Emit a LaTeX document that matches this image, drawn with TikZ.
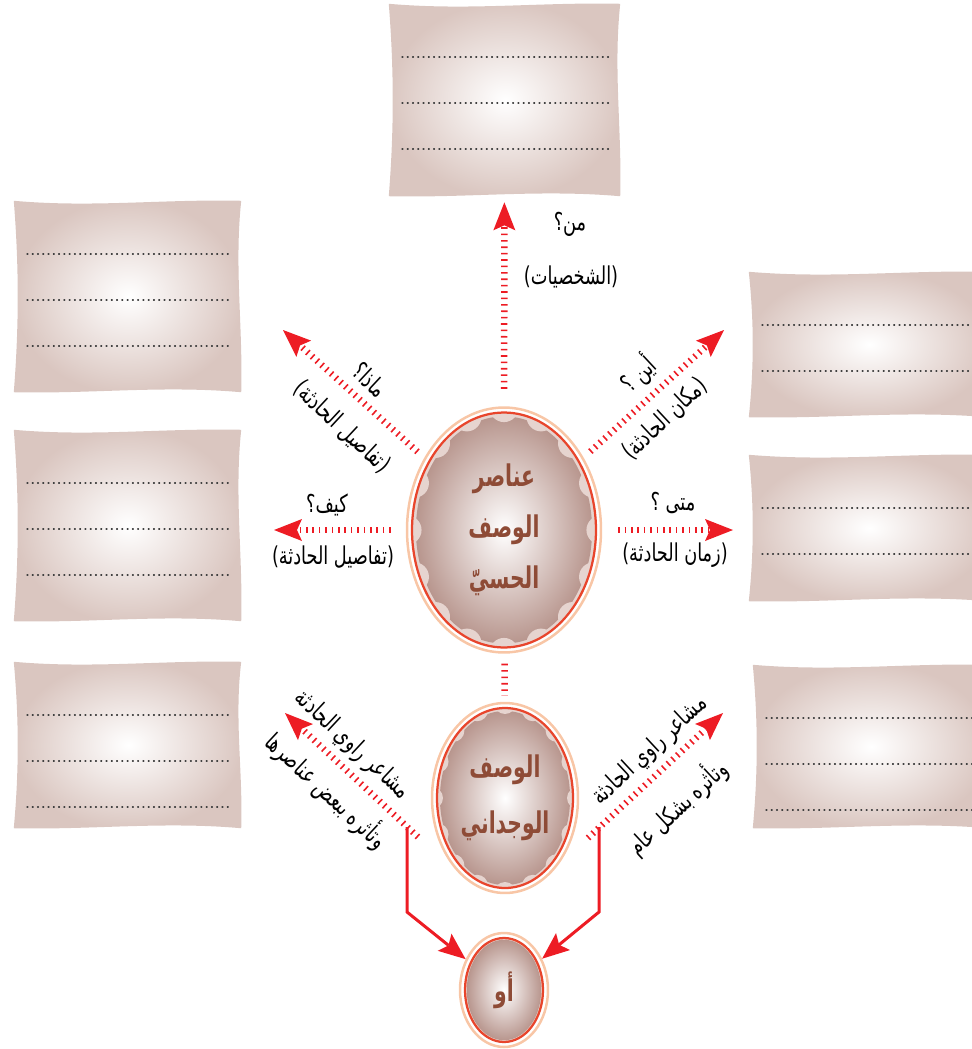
\documentclass[tikz,border=0pt]{standalone}
\usepackage{fontspec}
\usepackage{tikz}
\usetikzlibrary{positioning,calc,shapes.geometric,arrows.meta}
\newfontfamily\arabicfont[Script=Arabic,FakeStretch=0.72]{DejaVu Sans}
\newfontfamily\eggfont[Script=Arabic,FakeStretch=0.68]{DejaVu Sans}
\TeXXeTstate=1
\newcommand{\artext}[1]{\beginR #1\endR}
\definecolor{askred}{HTML}{ED1C24}
\definecolor{boxtan}{HTML}{DAC6C0}
\definecolor{eggpeach}{HTML}{F8C6A6}
\definecolor{eggred}{HTML}{E8452C}
\definecolor{eggband}{HTML}{E6D4CF}
\definecolor{eggbrown}{HTML}{B8968E}
\definecolor{eggtext}{HTML}{8E4B36}

\begin{document}
\begin{tikzpicture}[x=0.02cm, y=-0.02cm,
  lbl/.style={font=\arabicfont\fontsize{14}{16}\selectfont, inner sep=1pt},
  ask/.style={draw=askred, line width=1.3mm, dash pattern=on 0.32mm off 0.96mm,
    -{Stealth[length=5.6mm,width=4.4mm,inset=1mm,line width=0pt]}},
  link/.style={draw=askred, line width=1.3mm, dash pattern=on 0.32mm off 0.96mm},
  orarrow/.style={draw=askred, line width=0.6mm,
    -{Stealth[length=5.4mm,width=4.4mm,inset=1mm,line width=0pt]}},
  answerdots/.style={draw=black!75, line width=0.7pt, dash pattern=on 0.5pt off 2.5pt, line cap=round},
  answer/.style n args={3}{rectangle, minimum width=#1, minimum height=#2, inner sep=0pt,
    path picture={
      \path (path picture bounding box.north west) coordinate (pnw)
            (path picture bounding box.south east) coordinate (pse);
      \shade[inner color=white, outer color=boxtan]
        let \p1=(pnw), \p2=(pse), \n1={\x2-\x1}, \n2={\y1-\y2} in
        (\x1+1pt,\y1-1pt) .. controls (\x1+0.35*\n1,\y1-5pt) and (\x1+0.65*\n1,\y1) .. (\x2-1pt,\y1-1pt)
        .. controls (\x2-5pt,\y1-0.35*\n2) and (\x2,\y1-0.65*\n2) .. (\x2-1pt,\y2+1pt)
        .. controls (\x1+0.65*\n1,\y2+5pt) and (\x1+0.35*\n1,\y2) .. (\x1+1pt,\y2+1pt)
        .. controls (\x1+4pt,\y1-0.65*\n2) and (\x1+4pt,\y1-0.35*\n2) .. cycle;
      \foreach \k in {1,...,#3}
        \draw[answerdots] ($(pnw)+(3mm,{-11mm-(\k-1)*9.2mm})$) -- ($(pnw -| pse)+(-2.5mm,{-11mm-(\k-1)*9.2mm})$);
    }},
  egg/.style 2 args={ellipse, draw=eggpeach, line width=0.5mm, minimum width=#1, minimum height=#2,
    inner sep=0pt, align=center, text=eggtext, font=\eggfont\bfseries\fontsize{17}{29}\selectfont,
    path picture={
      \path (path picture bounding box.center) coordinate (pc);
      \begin{scope}
        \clip (pc) ellipse [x radius=0.5*#1-1mm, y radius=0.5*#2-1mm];
        \fill[eggband] (pc) ellipse [x radius=0.5*#1-1mm, y radius=0.5*#2-1mm];
        \shade[inner color=white, outer color=eggbrown] (pc)
          ellipse [x radius=0.48*#1-1mm, y radius=0.5*#2-1mm-0.02*#1];
        \foreach \a in {0,22.5,...,337.5}
          \fill[eggband] ($(pc)+({0.5*#1*cos(\a)},{0.5*#2*sin(\a)})$) circle [radius=0.075*#1];
      \end{scope}
      \draw[eggred, line width=0.45mm] (pc) ellipse [x radius=0.5*#1-1mm, y radius=0.5*#2-1mm];
    }}
]
  \useasboundingbox (0,0) rectangle (972,1049);

  % answer boxes
  \node[answer={47mm}{39.2mm}{3}] (who) at (504.5,100) {};
  \node[answer={46.2mm}{39mm}{3}] (what) at (127.5,296.5) {};
  \node[answer={46.2mm}{39mm}{3}] (how) at (127.5,525.5) {};
  \node[answer={46.2mm}{34mm}{3}] (feelA) at (127.5,745) {};
  \node[answer={48.6mm}{29.8mm}{2}] (where) at (868.5,344.5) {};
  \node[answer={48.6mm}{30mm}{2}] (when) at (868.5,528) {};
  \node[answer={47.8mm}{33.4mm}{3}] (feelB) at (870.5,746.5) {};

  % eggs
  \node[egg={38.8mm}{49mm}] (sense) at (504,530) {\artext{عناصر}\\\artext{الوصف}\\\artext{الحسيّ}};
  \node[egg={29.2mm}{38mm}, font=\eggfont\bfseries\fontsize{17}{32}\selectfont] (emo) at (505,798)
    {\artext{الوصف}\\\artext{الوجداني}};
  \node[egg={17.6mm}{22.8mm}] (orEgg) at (504,990) {\artext{أو}};

  \coordinate (whatTip) at (283,330);
  \coordinate (howTip) at (274,530);
  \coordinate (whereTip) at (724,330);
  \coordinate (whenTip) at (733,530);
  \coordinate (feelAFoot) at (418,837);
  \coordinate (feelATip) at (285,713);
  \coordinate (feelBFoot) at (588,838);
  \coordinate (feelBTip) at (723,713);
  \coordinate (feelASplit) at (407,827);
  \coordinate (feelAKnee) at (407,912);
  \coordinate (feelBSplit) at (599,827);
  \coordinate (feelBKnee) at (599,912);

  \draw[ask, shorten <=3.5mm, shorten >=0.8mm] (sense) -- (who);
  \draw[ask, shorten <=1.8mm] (sense) -- (whatTip);
  \draw[ask, shorten <=3mm] (sense) -- (howTip);
  \draw[ask, shorten <=1.8mm] (sense) -- (whereTip);
  \draw[ask, shorten <=3.2mm] (sense) -- (whenTip);
  \draw[link, shorten <=2mm, shorten >=1.2mm] (sense) -- (emo);
  \draw[ask] (feelAFoot) -- (feelATip);
  \draw[ask] (feelBFoot) -- (feelBTip);
  \draw[orarrow] (feelASplit) -- (feelAKnee) -- (orEgg);
  \draw[orarrow] (feelBSplit) -- (feelBKnee) -- (orEgg);

  % labels
  \node[lbl] (whoQ) at (570,224) {\artext{من؟}};
  \node[lbl] (whoA) at (571,277) {\artext{(الشخصيات)}};
  \node[lbl, rotate=-43] (whatQ) at (370,380) {\artext{ماذا؟}};
  \node[lbl, rotate=-43] (whatA) at (342,427) {\artext{(تفاصيل الحادثة)}};
  \node[lbl] (howQ) at (327,505) {\artext{كيف؟}};
  \node[lbl] (howA) at (333,557) {\artext{(تفاصيل الحادثة)}};
  \node[lbl, rotate=43] (whereQ) at (638,374) {\artext{أين ؟}};
  \node[lbl, rotate=43] (whereA) at (665,419) {\artext{(مكان الحادثة)}};
  \node[lbl] (whenQ) at (673,503) {\artext{متى ؟}};
  \node[lbl] (whenA) at (675,555) {\artext{(زمان الحادثة)}};
  \node[lbl, rotate=-43] (feelAQ) at (352,745) {\artext{مشاعر راوي الحادثة}};
  \node[lbl, rotate=-43] (feelAA) at (327,790) {\artext{وتأثره ببعض عناصرها}};
  \node[lbl, rotate=43] (feelBQ) at (650,751) {\artext{مشاعر راوي الحادثة}};
  \node[lbl, rotate=43] (feelBA) at (677,807) {\artext{وتأثره بشكل عام}};
\end{tikzpicture}
\end{document}
